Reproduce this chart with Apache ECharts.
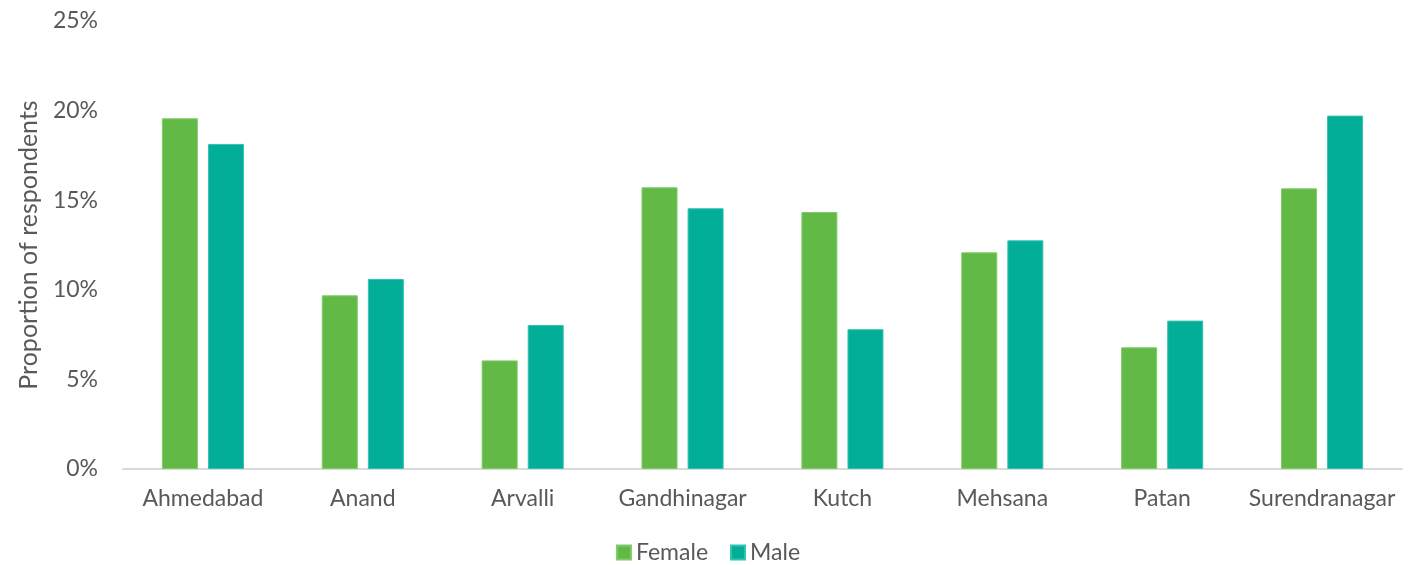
<!DOCTYPE html>
<html>
<head>
<meta charset="utf-8">
<script src="https://cdn.jsdelivr.net/npm/echarts@6/dist/echarts.min.js"></script>
<style>
  html, body { margin: 0; padding: 0; background: #fff; }
  #chart { width: 1416px; height: 565px; }
</style>
</head>
<body>
<div id="chart"></div>
<script>
// Districts along the x axis
const districts = ['Ahmedabad', 'Anand', 'Arvalli', 'Gandhinagar', 'Kutch', 'Mehsana', 'Patan', 'Surendranagar'];
// Share of respondents in each district (%)
const female = [19.57, 9.69, 6.06, 15.72, 14.34, 12.09, 6.79, 15.66];
const male = [18.14, 10.60, 8.04, 14.55, 7.80, 12.76, 8.28, 19.72];
// Y axis range and step (%)
const yMin = 0, yMax = 25, yStep = 5;

const FONT = 'Lato';
const TEXT = '#595959';

const chart = echarts.init(document.getElementById('chart'), null, { renderer: 'canvas' });
chart.setOption({
  animation: false,
  textStyle: { fontFamily: FONT },
  grid: { left: 123, right: 14, top: 21, bottom: 96, containLabel: false },
  legend: {
    top: 536,
    left: 'center',
    itemWidth: 14,
    itemHeight: 14,
    itemGap: 22,
    icon: 'rect',
    textStyle: { fontFamily: FONT, fontSize: 23, color: TEXT },
    data: ['Female', 'Male']
  },
  xAxis: {
    type: 'category',
    data: districts,
    axisLine: { show: true, lineStyle: { color: '#d9d9d9', width: 2 } },
    axisTick: { show: false },
    axisLabel: { interval: 0, fontFamily: FONT, fontSize: 23, color: TEXT, margin: 18 }
  },
  yAxis: {
    type: 'value',
    min: yMin,
    max: yMax,
    interval: yStep,
    name: 'Proportion of respondents',
    nameLocation: 'middle',
    nameGap: 82,
    nameRotate: 90,
    nameTextStyle: { fontFamily: FONT, fontSize: 25, color: TEXT },
    axisLine: { show: false },
    axisTick: { show: false },
    splitLine: { show: false },
    axisLabel: { fontFamily: FONT, fontSize: 23, color: TEXT, margin: 25, formatter: v => v + '%' }
  },
  series: [
    {
      name: 'Female',
      type: 'bar',
      data: female,
      barWidth: 36,
      barGap: '28%',
      itemStyle: { color: '#62b946', borderColor: '#7fcc66', borderWidth: 1 }
    },
    {
      name: 'Male',
      type: 'bar',
      data: male,
      barWidth: 36,
      barGap: '28%',
      itemStyle: { color: '#02ae98', borderColor: '#33c4b0', borderWidth: 1 }
    }
  ]
});
</script>
</body>
</html>
